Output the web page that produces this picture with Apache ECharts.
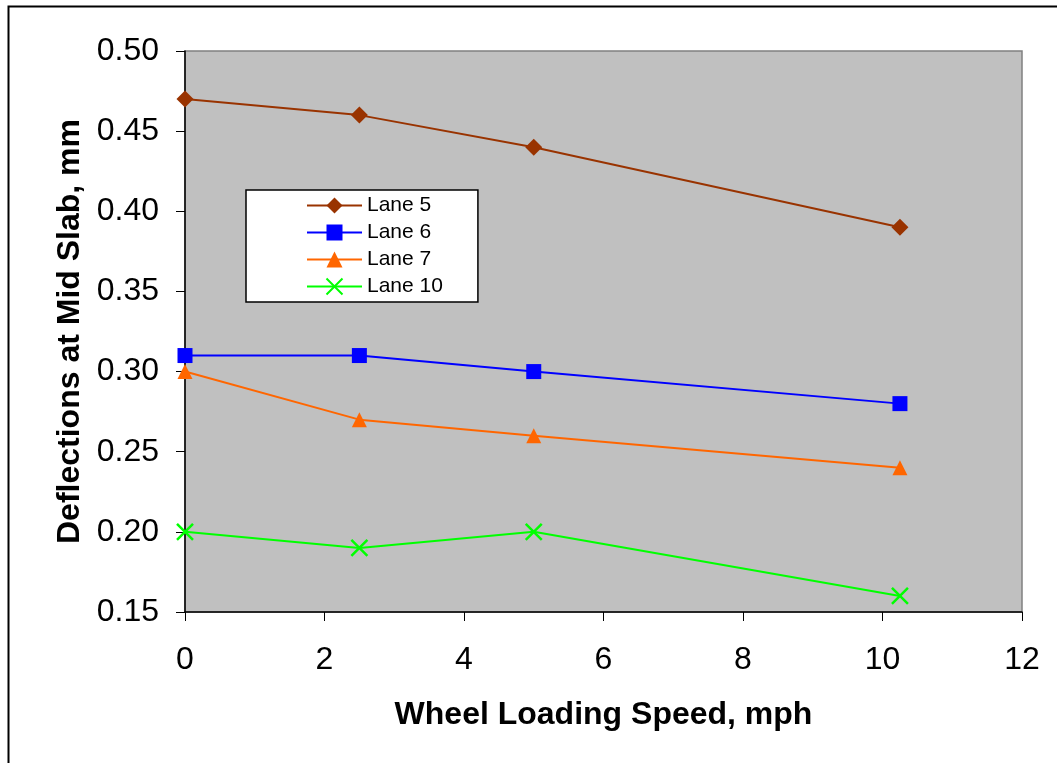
<!DOCTYPE html>
<html>
<head>
<meta charset="utf-8">
<script src="https://cdn.jsdelivr.net/npm/echarts@6/dist/echarts.min.js"></script>
<style>
html,body{margin:0;padding:0;background:#fff;}
#c{width:1057px;height:763px;}
</style>
</head>
<body>
<div id="c"></div>
<script>
var speeds = [0, 2.5, 5, 10.25];
var lane5 = [0.47, 0.46, 0.44, 0.39];
var lane6 = [0.31, 0.31, 0.30, 0.28];
var lane7 = [0.30, 0.27, 0.26, 0.24];
var lane10 = [0.20, 0.19, 0.20, 0.16];
var seriesNames = ['Lane 5', 'Lane 6', 'Lane 7', 'Lane 10'];

function pairs(ys){ return speeds.map(function(x,i){ return [x, ys[i]]; }); }

var FONT = '"Liberation Sans", Arial, sans-serif';
var chart = echarts.init(document.getElementById('c'), null, {renderer:'canvas'});
var option = {
  animation: false,
  backgroundColor: '#ffffff',
  graphic: [{
    type: 'rect', left: 6, top: 4, silent: true, z: -1,
    shape: {width: 1060, height: 770},
    style: {fill: 'none', stroke: '#000', lineWidth: 2}
  }],
  grid: {left: 185, top: 51, width: 837, height: 561, show: true,
         backgroundColor: '#c0c0c0', borderColor: '#808080', borderWidth: 1.5},
  legend: {
    orient: 'vertical', left: 246, top: 190,
    data: seriesNames,
    backgroundColor: '#ffffff', borderColor: '#000', borderWidth: 1.5,
    padding: [5, 35, 5, 60],
    itemWidth: 55, itemHeight: 20, itemGap: 6,
    textStyle: {fontFamily: FONT, fontSize: 21, color: '#000', lineHeight: 20}
  },
  xAxis: {
    type: 'value', min: 0, max: 12, interval: 2,
    name: 'Wheel Loading Speed, mph', nameLocation: 'middle', nameGap: 87,
    nameTextStyle: {fontFamily: FONT, fontSize: 32, fontWeight: 'bold', color: '#000'},
    axisLine: {onZero: false, lineStyle: {color: '#000', width: 1.5}},
    axisTick: {show: true, length: 9, inside: false, lineStyle: {color: '#000'}},
    axisLabel: {fontFamily: FONT, fontSize: 32, color: '#000', margin: 32},
    splitLine: {show: false}
  },
  yAxis: {
    type: 'value', min: 0.15, max: 0.50, interval: 0.05,
    name: 'Deflections at Mid Slab, mm', nameLocation: 'middle', nameGap: 98,
    nameTextStyle: {fontFamily: FONT, fontSize: 32, fontWeight: 'bold', color: '#000'},
    axisLine: {onZero: false, lineStyle: {color: '#000', width: 1.5}},
    axisTick: {show: true, length: 9, inside: false, lineStyle: {color: '#000'}},
    axisLabel: {fontFamily: FONT, fontSize: 32, color: '#000', margin: 26,
                formatter: function(v){ return v.toFixed(2); }},
    splitLine: {show: false}
  },
  series: [
    {name: 'Lane 5', type: 'line', data: pairs(lane5), symbol: 'diamond', symbolSize: 17,
     itemStyle: {color: '#993300'}, lineStyle: {color: '#993300', width: 2}},
    {name: 'Lane 6', type: 'line', data: pairs(lane6), symbol: 'rect', symbolSize: 15,
     itemStyle: {color: '#0000ff'}, lineStyle: {color: '#0000ff', width: 2}},
    {name: 'Lane 7', type: 'line', data: pairs(lane7), symbol: 'triangle', symbolSize: 15,
     itemStyle: {color: '#ff6600'}, lineStyle: {color: '#ff6600', width: 2}},
    {name: 'Lane 10', type: 'line', data: pairs(lane10),
     symbol: 'path://M0,0 L10,10 M10,0 L0,10', symbolSize: 16,
     itemStyle: {color: '#00ff00', borderColor: '#00ff00', borderWidth: 2.5},
     lineStyle: {color: '#00ff00', width: 2}}
  ]
};
chart.setOption(option);
</script>
</body>
</html>
